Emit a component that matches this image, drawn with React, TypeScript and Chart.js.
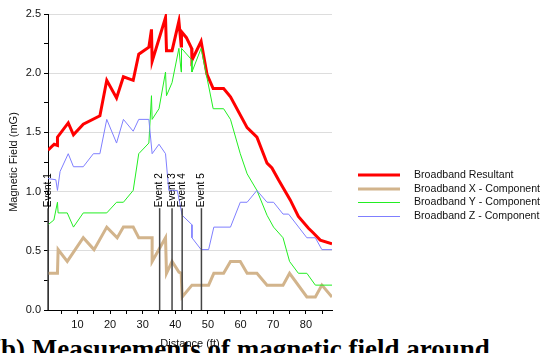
import React, { useEffect, useRef } from 'react';
import { Chart, registerables } from 'chart.js';
Chart.register(...registerables);

// Broadband Resultant
const resultantX = [1, 2.9, 3.9, 3.9, 7.2, 8.8, 11.8, 16.9, 19.0, 22.0, 24.1, 27.1, 28.8, 31.9, 32.7, 32.9, 37.0, 37.3, 39.0, 41.1, 41.8, 41.9, 43.4, 45.0, 45.1, 47.9, 49.7, 51.6, 54.8, 56.9, 62.0, 65.0, 68.1, 69.6, 71.6, 75.2, 77.7, 80.8, 82.3, 84.4, 88.0];
const resultantY = [1.35, 1.40, 1.39, 1.46, 1.58, 1.48, 1.57, 1.64, 1.94, 1.79, 1.97, 1.94, 2.16, 2.22, 2.37, 2.10, 2.47, 2.19, 2.19, 2.44, 2.23, 2.35, 2.30, 2.21, 2.11, 2.27, 1.99, 1.87, 1.87, 1.80, 1.54, 1.46, 1.24, 1.20, 1.10, 0.93, 0.79, 0.69, 0.65, 0.59, 0.56];

// Broadband X - Component
const compXX = [1, 3.9, 4.1, 6.9, 11.8, 15.1, 19.0, 22.2, 24.1, 27.1, 28.8, 32.9, 32.9, 37.0, 37.3, 39.0, 41.1, 41.8, 42.1, 45.1, 50.2, 51.8, 54.8, 56.9, 59.9, 62.0, 65.0, 68.1, 73.0, 75.0, 80.3, 82.9, 84.9, 88.0];
const compXY = [0.31, 0.31, 0.51, 0.41, 0.61, 0.51, 0.70, 0.61, 0.70, 0.70, 0.61, 0.61, 0.41, 0.61, 0.31, 0.41, 0.32, 0.31, 0.11, 0.21, 0.21, 0.31, 0.31, 0.41, 0.41, 0.31, 0.31, 0.21, 0.21, 0.31, 0.11, 0.11, 0.21, 0.11];

// Broadband Y - Component
const compYX = [1, 2.8, 3.9, 4.1, 6.9, 8.8, 11.8, 19.0, 22.0, 24.1, 27.1, 28.8, 31.9, 32.7, 32.9, 35.0, 37.0, 37.3, 39.0, 41.1, 41.8, 41.9, 45.1, 45.1, 47.9, 51.6, 54.8, 56.9, 59.9, 62.0, 65.0, 68.1, 70.1, 73.0, 75.0, 77.7, 80.3, 82.9, 88.0];
const compYY = [0.72, 0.76, 0.91, 0.82, 0.82, 0.70, 0.82, 0.82, 0.91, 0.91, 1.01, 1.32, 1.41, 1.81, 1.61, 1.70, 2.01, 1.81, 1.92, 2.21, 2.01, 2.21, 2.11, 2.01, 2.21, 1.70, 1.70, 1.61, 1.32, 1.15, 1.01, 0.80, 0.70, 0.61, 0.41, 0.31, 0.31, 0.21, 0.21];

// Broadband Z - Component
const compZX = [1, 3.4, 3.9, 4.7, 7.2, 8.8, 11.8, 14.9, 16.9, 19.0, 22.0, 24.1, 27.1, 28.8, 31.9, 32.9, 35.0, 37.0, 38.0, 40.6, 42.1, 45.1, 45.1, 47.9, 50.2, 51.8, 56.9, 59.9, 62.0, 65.0, 68.1, 70.1, 73.0, 74.7, 80.3, 82.9, 84.9, 88.0];
const compZY = [1.11, 1.10, 1.01, 1.17, 1.32, 1.21, 1.21, 1.32, 1.32, 1.61, 1.41, 1.61, 1.51, 1.61, 1.61, 1.32, 1.40, 1.32, 1.01, 1.01, 0.80, 0.72, 0.61, 0.51, 0.51, 0.70, 0.70, 0.91, 0.91, 1.01, 0.91, 0.91, 0.81, 0.81, 0.61, 0.61, 0.51, 0.51];

const eventX = [1, 35.2, 39, 42.1, 48];
const eventLabels = ['Event 1', 'Event 2', 'Event 3', 'Event 4', 'Event 5'];
const eventTop = 0.86;

const seriesNames = ['Broadband Resultant', 'Broadband X - Component', 'Broadband Y - Component', 'Broadband Z - Component'];
const seriesColors = ['#ff0000', '#d2b48c', '#22ee22', '#7f7fff'];
const seriesWidths = [3, 3, 1, 1];

const xTitle = 'Distance (ft)';
const yTitle = 'Magnetic Field (mG)';
const caption = '(b) Measurements of magnetic field around';

const FONT = '"Liberation Sans", Arial, sans-serif';

const toPts = (xs: number[], ys: number[]) => xs.map((v, i) => ({ x: v, y: ys[i] }));

const overlay = {
  id: 'overlay',
  afterDatasetsDraw(chart: any) {
    const { ctx, scales } = chart;
    const x = scales.x;
    const y = scales.y;
    ctx.save();
    // event markers
    const yb = y.getPixelForValue(0);
    const yt = y.getPixelForValue(eventTop);
    ctx.strokeStyle = '#444';
    ctx.lineWidth = 1.5;
    ctx.fillStyle = '#000';
    ctx.font = `10px ${FONT}`;
    eventX.forEach((ev, i) => {
      const px = x.getPixelForValue(ev);
      ctx.beginPath();
      ctx.moveTo(px, yb);
      ctx.lineTo(px, yt);
      ctx.stroke();
      ctx.save();
      ctx.translate(px, yt);
      ctx.rotate(-Math.PI / 2);
      ctx.textAlign = 'left';
      ctx.textBaseline = 'middle';
      ctx.fillText(eventLabels[i], 1, 0);
      ctx.restore();
    });
    // axis titles
    ctx.fillStyle = '#111';
    ctx.font = `11px ${FONT}`;
    ctx.textAlign = 'center';
    ctx.textBaseline = 'middle';
    ctx.fillText(xTitle, (x.left + x.right) / 2, 344);
    ctx.save();
    ctx.translate(14, (y.top + y.bottom) / 2);
    ctx.rotate(-Math.PI / 2);
    ctx.fillText(yTitle, 0, 0);
    ctx.restore();
    // legend
    const ly = [175, 189, 202.5, 216.5];
    ctx.textAlign = 'left';
    ctx.font = `10.6px ${FONT}`;
    seriesNames.forEach((n, i) => {
      ctx.strokeStyle = seriesColors[i];
      ctx.lineWidth = seriesWidths[i];
      ctx.beginPath();
      ctx.moveTo(358, ly[i]);
      ctx.lineTo(400, ly[i]);
      ctx.stroke();
      ctx.fillStyle = '#111';
      ctx.fillText(n, 414, ly[i]);
    });
    ctx.restore();
  },
};

export default function App() {
  const ref = useRef<HTMLCanvasElement>(null);
  useEffect(() => {
    document.body.style.margin = '0';
    document.documentElement.style.overflow = 'hidden';
    const xsList = [resultantX, compXX, compYX, compZX];
    const ysList = [resultantY, compXY, compYY, compZY];
    const datasets = [3, 2, 1, 0].map((i) => ({
      label: seriesNames[i],
      data: toPts(xsList[i], ysList[i]),
      borderColor: seriesColors[i],
      borderWidth: seriesWidths[i],
      pointRadius: 0,
      fill: false,
      tension: 0,
    }));
    const chart = new Chart(ref.current!, {
      type: 'line',
      data: { datasets },
      options: {
        responsive: false,
        animation: false,
        parsing: false as any,
        layout: { padding: { top: 14, right: 209, left: 0, bottom: 0 } },
        plugins: { legend: { display: false }, tooltip: { enabled: false } },
        scales: {
          x: {
            type: 'linear',
            min: 1,
            max: 88,
            afterFit: (s: any) => { s.height = 43; },
            afterBuildTicks: (s: any) => {
              const t: any[] = [];
              for (let v = 5; v <= 85; v += 5) t.push({ value: v });
              s.ticks = t;
            },
            ticks: {
              autoSkip: false,
              maxRotation: 0,
              padding: 4,
              color: '#111',
              font: { family: FONT, size: 11 },
              callback: (v: any) => (v % 10 === 0 ? String(v) : ''),
            },
            grid: { drawOnChartArea: false, tickLength: 4, tickColor: '#000' },
            border: { color: '#000', width: 1 },
          },
          y: {
            min: 0,
            max: 2.5,
            afterFit: (s: any) => { s.width = 48; },
            afterBuildTicks: (s: any) => {
              const t: any[] = [];
              for (let k = 0; k <= 10; k++) t.push({ value: k * 0.25 });
              s.ticks = t;
            },
            ticks: {
              autoSkip: false,
              padding: 3,
              color: '#111',
              font: { family: FONT, size: 11 },
              callback: (v: any) => (Math.abs((v * 2) - Math.round(v * 2)) < 1e-6 ? Number(v).toFixed(1) : ''),
            },
            grid: {
              tickLength: 4,
              tickColor: '#000',
              color: (c: any) => {
                const v = c.tick ? c.tick.value : 0;
                return Math.abs(v * 2 - Math.round(v * 2)) < 1e-6 && v > 0 ? '#dddddd' : 'rgba(0,0,0,0)';
              },
            },
            border: { color: '#000', width: 1 },
          },
        },
      },
      plugins: [overlay],
    });
    return () => chart.destroy();
  }, []);
  return (
    <div style={{ position: 'relative', width: 541, height: 353, overflow: 'hidden', background: '#fff' }}>
      <div
        style={{
          position: 'absolute',
          left: -8,
          top: 334,
          fontFamily: '"Liberation Serif", "Times New Roman", serif',
          fontWeight: 'bold',
          fontSize: 27,
          lineHeight: '30px',
          whiteSpace: 'nowrap',
          color: '#000',
          zIndex: 0,
        }}
      >
        {caption}
      </div>
      <canvas ref={ref} width={541} height={353} style={{ position: 'absolute', left: 0, top: 0, zIndex: 1 }} />
    </div>
  );
}
